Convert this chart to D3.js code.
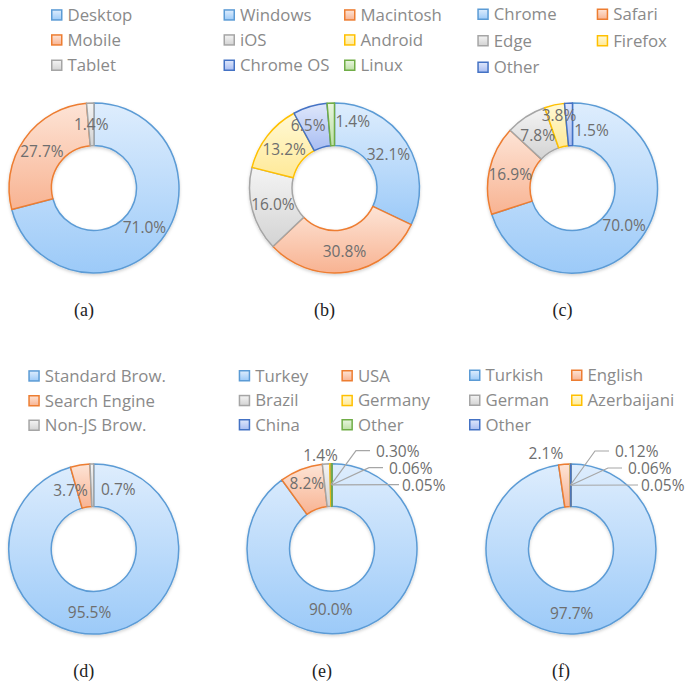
<!DOCTYPE html>
<html>
<head>
<meta charset="utf-8">
<script src="https://cdn.jsdelivr.net/npm/d3@7"></script>
<style>
    body { margin: 0; background: #fff; }
    .legend-text { font-family: "Open Sans", sans-serif; font-size: 16.8px; fill: #8a8a8a; }
    .slice-label { font-family: "Open Sans", sans-serif; font-size: 15.5px; fill: #6e6e6e; }
    .caption { font-family: "Liberation Serif", serif; font-size: 18px; fill: #222; }
</style>
</head>
<body>
<div id="chart_area"></div>
<script>
const device_labels = ["Desktop", "Mobile", "Tablet"];
const device_values = [71.0, 27.7, 1.4];

const os_labels = ["Windows", "Macintosh", "iOS", "Android", "Chrome OS", "Linux"];
const os_values = [32.1, 30.8, 16.0, 13.2, 6.5, 1.4];

const browser_labels = ["Chrome", "Safari", "Edge", "Firefox", "Other"];
const browser_values = [70.0, 16.9, 7.8, 3.8, 1.5];

const client_labels = ["Standard Brow.", "Search Engine", "Non-JS Brow."];
const client_values = [95.5, 3.7, 0.7];

const country_labels = ["Turkey", "USA", "Brazil", "Germany", "China", "Other"];
const country_values = [90.0, 8.2, 1.4, 0.30, 0.06, 0.05];

const language_labels = ["Turkish", "English", "German", "Azerbaijani", "Other"];
const language_values = [97.7, 2.1, 0.12, 0.06, 0.05];

const WIDTH = 689;
const HEIGHT = 686;
const OUTER_RADIUS = 85;
const INNER_RADIUS = 42.5;

// excel-ish palette: outline, gradient top, gradient bottom
const palette = [
    {stroke: "#5b9bd5", top: "#deedfd", bottom: "#9ccaf8"},
    {stroke: "#ed7d31", top: "#fde4d6", bottom: "#f8b392"},
    {stroke: "#a5a5a5", top: "#f4f4f4", bottom: "#d3d3d3"},
    {stroke: "#ffc000", top: "#fff9d6", bottom: "#ffe998"},
    {stroke: "#4472c4", top: "#dfe7fb", bottom: "#a8bdf2"},
    {stroke: "#70ad47", top: "#e9f5e0", bottom: "#bde0a5"}
];

// layout of each panel (centre, legend columns/rows, label nudges, callouts)
const panels = [
    {name: "(a)", labels: device_labels, values: device_values, cx: 94, cy: 188,
        legend_x: [51], legend_y: [20.7, 45.7, 71], caption_y: 316, nudge: {}},
    {name: "(b)", labels: os_labels, values: os_values, cx: 334.5, cy: 188,
        legend_x: [223.5, 344], legend_y: [20.7, 45.7, 71], caption_y: 316,
        nudge: {4: [-8, -2], 5: [21, -3]}},
    {name: "(c)", labels: browser_labels, values: browser_values, cx: 572.5, cy: 188,
        legend_x: [477.3, 596.7], legend_y: [20, 46.5, 73], caption_y: 316,
        nudge: {3: [0, -11], 4: [22, 6]}},
    {name: "(d)", labels: client_labels, values: client_values, cx: 93.7, cy: 549,
        legend_x: [28.3], legend_y: [381.7, 406.5, 431], caption_y: 677,
        nudge: {0: [-13, 0], 1: [-13, 4], 2: [26, 4]}},
    {name: "(e)", labels: country_labels, values: country_values, cx: 332, cy: 548.7,
        legend_x: [238.7, 341.4], legend_y: [381.5, 406.3, 430.5], caption_y: 677,
        nudge: {0: [-21, 0], 1: [-2, -6], 2: [-7, -30]}, callouts: [3, 4, 5]},
    {name: "(f)", labels: language_labels, values: language_values, cx: 571, cy: 549,
        legend_x: [469, 571], legend_y: [381, 406, 430.5], caption_y: 677,
        nudge: {0: [-4, 0], 1: [-20, -32]}, callouts: [2, 3, 4]}
];

let svg = d3.select("#chart_area")
    .append("svg")
    .attr("width", WIDTH)
    .attr("height", HEIGHT);

svg.append("rect").attr("width", WIDTH).attr("height", HEIGHT).attr("fill", "#fff");

let defs = svg.append("defs");

palette.forEach(function (c, i) {
    let grad = defs.append("linearGradient")
        .attr("id", "grad_" + i)
        .attr("x1", 0).attr("y1", 0).attr("x2", 0).attr("y2", 1);
    grad.append("stop").attr("offset", "0%").attr("stop-color", c.top);
    grad.append("stop").attr("offset", "100%").attr("stop-color", c.bottom);
});

let shadow = defs.append("filter").attr("id", "soft_shadow")
    .attr("x", "-20%").attr("y", "-20%").attr("width", "140%").attr("height", "140%");
shadow.append("feDropShadow")
    .attr("dx", 0).attr("dy", 1.5).attr("stdDeviation", 1.5)
    .attr("flood-color", "#000").attr("flood-opacity", 0.18);

const pie = d3.pie().sort(null).value(d => d);
const arc = d3.arc().innerRadius(INNER_RADIUS).outerRadius(OUTER_RADIUS);

panels.forEach(draw_panel);

function format_value(v, is_callout) {
    return (is_callout ? v.toFixed(2) : v.toFixed(1)) + "%";
}

function draw_panel(p) {
    draw_legend(p);

    let g = svg.append("g").attr("transform", "translate(" + p.cx + "," + p.cy + ")");
    let arcs = pie(p.values);

    g.append("g")
        .attr("filter", "url(#soft_shadow)")
        .selectAll("path")
        .data(arcs)
        .enter().append("path")
        .attr("d", arc)
        .attr("fill", (d, i) => "url(#grad_" + i + ")")
        .attr("stroke", (d, i) => palette[i].stroke)
        .attr("stroke-width", 1.5)
        .attr("stroke-linejoin", "round");

    let callouts = p.callouts || [];

    // ordinary labels sit on the ring centroid, nudged where excel moved them
    arcs.forEach(function (d, i) {
        if (callouts.indexOf(i) >= 0) return;
        let c = arc.centroid(d);
        let n = p.nudge[i] || [0, 0];
        g.append("text")
            .attr("class", "slice-label")
            .attr("x", c[0] + n[0])
            .attr("y", c[1] + n[1])
            .attr("text-anchor", "middle")
            .attr("dominant-baseline", "central")
            .text(format_value(d.data, false));
    });

    // the tiny slices get leader lines out to the right
    callouts.forEach(function (idx, k) {
        let d = arcs[idx];
        let c = arc.centroid(d);
        let ly = -OUTER_RADIUS - 13 + k * 17;
        let lx = 44 + k * 13;
        let pts = (k === callouts.length - 1)
            ? [c, [lx - 3, ly]]
            : [c, [lx - 20, ly], [lx - 6, ly]];
        g.append("polyline")
            .attr("points", pts.map(q => q.join(",")).join(" "))
            .attr("fill", "none")
            .attr("stroke", "#a6a6a6")
            .attr("stroke-width", 1.2);
        g.append("text")
            .attr("class", "slice-label")
            .attr("x", lx)
            .attr("y", ly)
            .attr("dominant-baseline", "central")
            .text(format_value(d.data, true));
    });

    svg.append("text")
        .attr("class", "caption")
        .attr("x", p.cx - 10)
        .attr("y", p.caption_y)
        .attr("text-anchor", "middle")
        .text(p.name);
}

function draw_legend(p) {
    let cols = p.legend_x.length;
    p.labels.forEach(function (label, i) {
        let x = p.legend_x[i % cols];
        let y = p.legend_y[Math.floor(i / cols)];
        svg.append("rect")
            .attr("x", x + 0.75)
            .attr("y", y - 10.75)
            .attr("width", 10)
            .attr("height", 10)
            .attr("fill", "url(#grad_" + i + ")")
            .attr("stroke", palette[i].stroke)
            .attr("stroke-width", 1.5);
        svg.append("text")
            .attr("class", "legend-text")
            .attr("x", x + 16.5)
            .attr("y", y)
            .text(label);
    });
}
</script>
</body>
</html>
